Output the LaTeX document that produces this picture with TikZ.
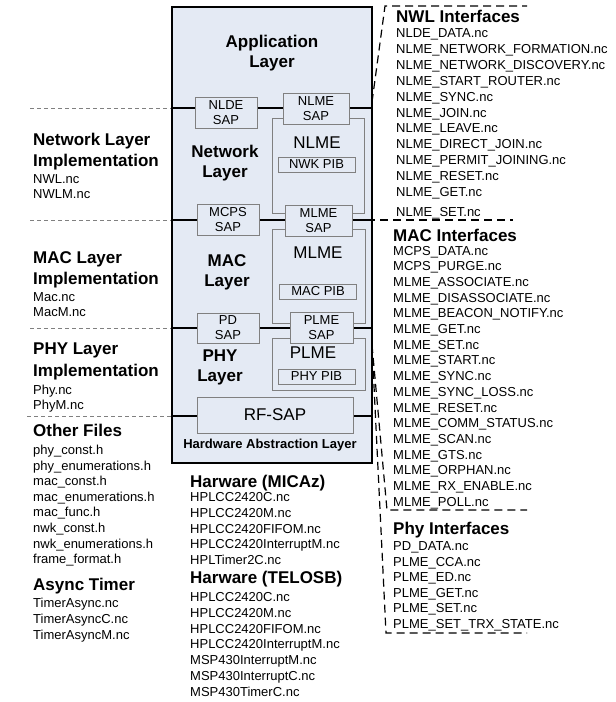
\documentclass[tikz,border=0pt]{standalone}
\usepackage{fontspec}
\setmainfont{Liberation Sans}
\definecolor{layerfill}{HTML}{E4EAF4}
\definecolor{boxgray}{HTML}{808080}

\tikzset{
  layerbox/.style={draw=black,line width=2.4pt,fill=layerfill,inner sep=0pt},
  sapbox/.style={draw=boxgray,fill=layerfill,line width=0.8pt,align=center,inner sep=0pt,
    font=\fontsize{13}{15}\selectfont},
  entitybox/.style={draw=boxgray,line width=0.8pt,inner sep=0pt},
  pibbox/.style={draw=boxgray,fill=layerfill,line width=0.8pt,inner sep=0pt,
    minimum width=77pt,minimum height=15pt,font=\fontsize{13}{15}\selectfont},
  layerlbl/.style={align=center,inner sep=0pt,font=\fontsize{17}{20.5}\selectfont\bfseries},
  entitylbl/.style={inner sep=0pt,font=\fontsize{17}{20}\selectfont},
  head/.style={anchor=base west,inner sep=0pt,font=\fontsize{17}{20}\selectfont\bfseries},
  file/.style={anchor=base west,inner sep=0pt,font=\fontsize{13}{15}\selectfont},
  layerline/.style={line width=2.4pt},
  guide/.style={draw=gray,line width=0.8pt,dash pattern=on 4pt off 3pt},
  bracket/.style={line width=1.2pt,dash pattern=on 8pt off 5pt},
}

\begin{document}
\begin{tikzpicture}[x=1pt,y=-1pt]
  \useasboundingbox (0,0) rectangle (616,702);
  % protocol stack
  \node[layerbox,minimum width=200pt,minimum height=456pt] (stack) at (272,235) {};
  \node[entitybox,minimum width=92pt,minimum height=95pt] (nlme) at (318,165.5) {};
  \node[entitybox,minimum width=93pt,minimum height=94pt] (mlme) at (318.5,276) {};
  \node[entitybox,minimum width=93pt,minimum height=52pt] (plme) at (318.5,364) {};
  % layer boundaries
  \coordinate (nwkline) at (30,108);
  \coordinate (macline) at (30,220);
  \coordinate (phyline) at (30,328);
  \coordinate (halline) at (27,416);
  \foreach \c in {nwkline,macline,phyline,halline}{
    \draw[guide] (\c) -- (stack.west |- \c);
    \draw[layerline] (stack.west |- \c) -- (stack.east |- \c);
  }
  % service access points
  \node[sapbox,minimum width=62pt,minimum height=31pt] (nldesap) at (226,112.5) {NLDE\\SAP};
  \node[sapbox,minimum width=66pt,minimum height=31pt] (nlmesap) at (316,108.5) {NLME\\SAP};
  \node[sapbox,minimum width=62pt,minimum height=31pt] (mcpssap) at (228,219.5) {MCPS\\SAP};
  \node[sapbox,minimum width=67pt,minimum height=31pt] (mlmesap) at (318.5,220.5) {MLME\\SAP};
  \node[sapbox,minimum width=62pt,minimum height=30pt] (pdsap) at (228,328) {PD\\SAP};
  \node[sapbox,minimum width=63pt,minimum height=31pt] (plmesap) at (321.5,327.5) {PLME\\SAP};
  \node[sapbox,minimum width=156pt,minimum height=36pt,
    font=\fontsize{17}{20}\selectfont] (rfsap) at (275,415) {RF-SAP};
  \node[pibbox] (nwkpib) at (316.5,164.5) {NWK PIB};
  \node[pibbox] (macpib) at (318,291.5) {MAC PIB};
  \node[pibbox] (phypib) at (316.5,376.5) {PHY PIB};
  \node[entitylbl] (nlmelbl) at (317,143) {NLME};
  \node[entitylbl] (mlmelbl) at (318,253) {MLME};
  \node[entitylbl] (plmelbl) at (313,353) {PLME};
  \node[layerlbl] (applbl) at (272,53) {Application\\Layer};
  \node[layerlbl] (nwklbl) at (225,163) {Network\\Layer};
  \node[layerlbl] (maclbl) at (227,272.5) {MAC\\Layer};
  \node[layerlbl] (phylbl) at (220,367.5) {PHY\\Layer};
  \node[inner sep=0pt,font=\fontsize{13}{15}\selectfont\bfseries] (hallbl) at (270,445)
    {Hardware Abstraction Layer};
  % interface brackets
  \coordinate (nwlfoot) at (372,102);
  \coordinate (nwltop) at (385,6);
  \coordinate (nwlend) at (527,6);
  \coordinate (setend) at (513,220);
  \coordinate (macfoot) at (372,345);
  \coordinate (maccorner) at (387,510);
  \coordinate (macend) at (527,510);
  \coordinate (phycorner) at (386,633);
  \coordinate (phyend) at (527,633);
  \draw[bracket] (nwlfoot) -- (nwltop) -- (nwlend);
  \draw[bracket] (mlmesap.east |- macline) ++(2,0) -- (setend);
  \draw[bracket] (macfoot) -- (maccorner) -- (macend);
  \draw[bracket] (macfoot) -- (phycorner) -- (phyend);
  % interface files
  \node[head] (nwlhead) at (396,22) {NWL Interfaces};
  \foreach \f [count=\i from 0] in {NLDE\_DATA.nc,NLME\_NETWORK\_FORMATION.nc,
      NLME\_NETWORK\_DISCOVERY.nc,NLME\_START\_ROUTER.nc,NLME\_SYNC.nc,NLME\_JOIN.nc,
      NLME\_LEAVE.nc,NLME\_DIRECT\_JOIN.nc,NLME\_PERMIT\_JOINING.nc,NLME\_RESET.nc,
      NLME\_GET.nc}
    \node[file] (nwlif\i) at (396,{37.5+15.9*\i}) {\f};
  \node[file] (nwlset) at (396,216.5) {NLME\_SET.nc};
  \node[head] (machead) at (393,241) {MAC Interfaces};
  \foreach \f [count=\i from 0] in {MCPS\_DATA.nc,MCPS\_PURGE.nc,MLME\_ASSOCIATE.nc,
      MLME\_DISASSOCIATE.nc,MLME\_BEACON\_NOTIFY.nc,MLME\_GET.nc,MLME\_SET.nc,
      MLME\_START.nc,MLME\_SYNC.nc,MLME\_SYNC\_LOSS.nc,MLME\_RESET.nc,
      MLME\_COMM\_STATUS.nc,MLME\_SCAN.nc,MLME\_GTS.nc,MLME\_ORPHAN.nc,
      MLME\_RX\_ENABLE.nc,MLME\_POLL.nc}
    \node[file] (macif\i) at (393,{255+15.7*\i}) {\f};
  \node[head] (phyhead) at (393,534) {Phy Interfaces};
  \foreach \f [count=\i from 0] in {PD\_DATA.nc,PLME\_CCA.nc,PLME\_ED.nc,PLME\_GET.nc,
      PLME\_SET.nc,PLME\_SET\_TRX\_STATE.nc}
    \node[file] (phyif\i) at (393,{550.5+15.6*\i}) {\f};
  % implementation files
  \node[head,align=left,anchor=north west,font=\fontsize{17}{21}\selectfont\bfseries]
    (nwkhead) at (33,133) {Network Layer\\Implementation};
  \node[file] (nwkfile0) at (33,183.5) {NWL.nc};
  \node[file] (nwkfile1) at (33,198.5) {NWLM.nc};
  \node[head,align=left,anchor=north west,font=\fontsize{17}{21}\selectfont\bfseries]
    (machd) at (33,251) {MAC Layer\\Implementation};
  \node[file] (macfile0) at (33,301.5) {Mac.nc};
  \node[file] (macfile1) at (33,316.5) {MacM.nc};
  \node[head,align=left,anchor=north west,font=\fontsize{17}{21.5}\selectfont\bfseries]
    (phyhd) at (33,343) {PHY Layer\\Implementation};
  \node[file] (phyfile0) at (33,394.5) {Phy.nc};
  \node[file] (phyfile1) at (33,409.5) {PhyM.nc};
  \node[head] (otherhead) at (33,436) {Other Files};
  \foreach \f [count=\i from 0] in {phy\_const.h,phy\_enumerations.h,mac\_const.h,
      mac\_enumerations.h,mac\_func.h,nwk\_const.h,nwk\_enumerations.h,frame\_format.h}
    \node[file] (other\i) at (33,{454.5+15.6*\i}) {\f};
  \node[head] (timerhead) at (33,590) {Async Timer};
  \foreach \f [count=\i from 0] in {TimerAsync.nc,TimerAsyncC.nc,TimerAsyncM.nc}
    \node[file] (timer\i) at (33,{607.5+16*\i}) {\f};
  % hardware files
  \node[head] (micazhead) at (190,487) {Harware (MICAz)};
  \foreach \f [count=\i from 0] in {HPLCC2420C.nc,HPLCC2420M.nc,HPLCC2420FIFOM.nc,
      HPLCC2420InterruptM.nc,HPLTimer2C.nc}
    \node[file] (micaz\i) at (190,{501.5+15.75*\i}) {\f};
  \node[head] (telosbhead) at (190,583) {Harware (TELOSB)};
  \foreach \f [count=\i from 0] in {HPLCC2420C.nc,HPLCC2420M.nc,HPLCC2420FIFOM.nc,
      HPLCC2420InterruptM.nc,MSP430InterruptM.nc,MSP430InterruptC.nc,MSP430TimerC.nc}
    \node[file] (telosb\i) at (190,{601.5+15.8*\i}) {\f};
\end{tikzpicture}
\end{document}
